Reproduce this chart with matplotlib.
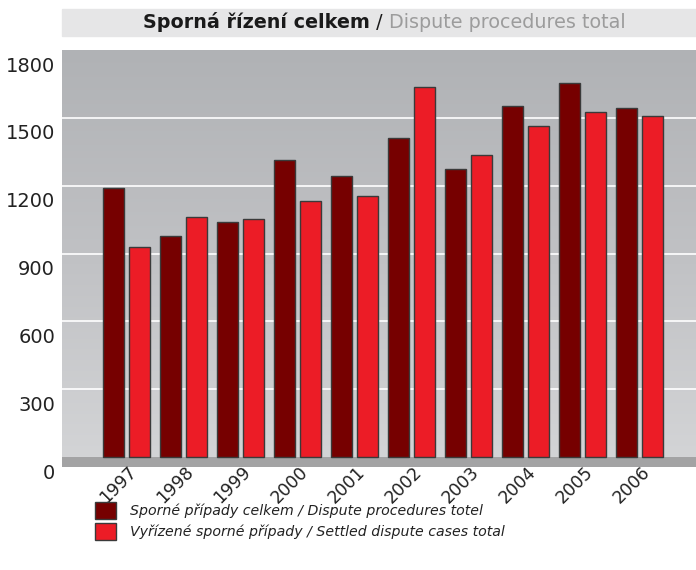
import matplotlib.pyplot as plt
import matplotlib.transforms as mtransforms
import numpy as np
from matplotlib.colors import LinearSegmentedColormap

years = ["1997", "1998", "1999", "2000", "2001", "2002", "2003", "2004", "2005", "2006"]
dispute_total = [1190, 978, 1041, 1315, 1241, 1410, 1272, 1553, 1656, 1544]
settled_total = [930, 1063, 1053, 1134, 1154, 1637, 1334, 1463, 1528, 1509]
yticks = [0, 300, 600, 900, 1200, 1500, 1800]

label_dark = "Sporné případy celkem / Dispute procedures totel"
label_red = "Vyřízené sporné případy / Settled dispute cases total"

DARK = "#760000"
RED = "#ec1c26"

fig = plt.figure(figsize=(6.96, 5.70), dpi=100)
ax = fig.add_axes([62 / 696, 1 - 467 / 570, 1 - 62 / 696, (467 - 50) / 570])

x = np.arange(len(years))
w = 0.37
off = 0.228
y0, y1 = -44, 1800

# gradient background
cmap = LinearSegmentedColormap.from_list("bg", ["#d3d4d6", "#c0c1c4", "#b0b2b5"])
grad = np.linspace(0, 1, 256).reshape(-1, 1)
ax.imshow(grad, cmap=cmap, aspect="auto", origin="lower",
          extent=(-1.13, 9.99, 0, y1), zorder=0)
ax.axhspan(y0, 0, color="#a3a3a4", zorder=1, lw=0)

for t in yticks[1:-1]:
    ax.axhline(t, color="white", lw=1.2, zorder=1)

ax.bar(x - off, dispute_total, w, color=DARK, edgecolor="#3a3a3a", lw=1.0,
       zorder=3, label=label_dark)
ax.bar(x + off, settled_total, w, color=RED, edgecolor="#3a3a3a", lw=1.0,
       zorder=3, label=label_red)

ax.set_xlim(-1.13, 9.99)
ax.set_ylim(y0, y1)

for s in ax.spines.values():
    s.set_visible(False)
ax.tick_params(length=0)

ax.set_yticks(yticks)
ax.set_yticklabels([str(t) for t in yticks], fontsize=14, color="#222222")
ax.tick_params(axis="y", pad=5)
shift = mtransforms.ScaledTranslation(0, -14 / 100, fig.dpi_scale_trans)
for lab in ax.get_yticklabels():
    lab.set_transform(lab.get_transform() + shift)

ax.set_xticks([])
base = mtransforms.blended_transform_factory(ax.transData, ax.transAxes)
for xi, yr in zip(x, years):
    tr = mtransforms.offset_copy(base, fig=fig, x=-8, y=-18, units="dots")
    ax.text(xi, 0, yr, transform=tr, rotation=45, ha="center", va="center",
            fontsize=12.5, color="#222222")

# title band
fig.patches.append(plt.Rectangle((62 / 696, 1 - 36 / 570), 1 - 62 / 696, 27 / 570,
                                 transform=fig.transFigure, color="#e6e6e7", zorder=0))
ty = 1 - 22 / 570
t1 = fig.text(143 / 696, ty, "Sporná řízení celkem", fontsize=13.8,
              fontweight="bold", color="#1a1a1a", va="center", ha="left")
fig.canvas.draw()
bb = t1.get_window_extent()
t2 = fig.text(bb.x1 / fig.bbox.width, ty, " / ", fontsize=13.8,
              color="#1a1a1a", va="center", ha="left")
bb2 = t2.get_window_extent()
fig.text(bb2.x1 / fig.bbox.width, ty, "Dispute procedures total",
         fontsize=13.8, color="#9c9c9c", va="center", ha="left")

leg = fig.legend(loc="upper left", bbox_to_anchor=(95 / 696, 1 - 502 / 570),
                 frameon=False, borderpad=0, borderaxespad=0, fontsize=10.2,
                 handlelength=1.5, handleheight=1.45, handletextpad=1.0,
                 labelspacing=0.3)
for txt in leg.get_texts():
    txt.set_fontstyle("italic")
    txt.set_color("#222222")

fig.savefig("out.png", dpi=100)
